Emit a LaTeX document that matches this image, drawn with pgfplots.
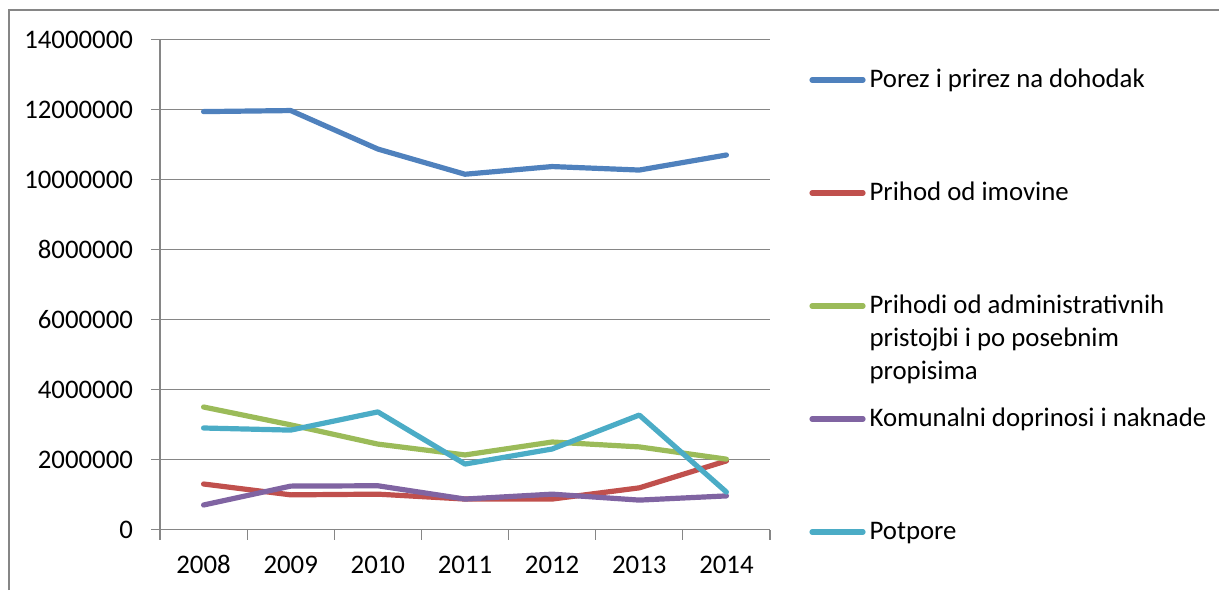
\documentclass[border=0pt]{standalone}
\usepackage{fontspec}
\setmainfont{Carlito}
\usepackage{pgfplots}
\pgfplotsset{compat=1.18}
\definecolor{cBlue}{HTML}{4F81BD}
\definecolor{cRed}{HTML}{C0504D}
\definecolor{cGreen}{HTML}{9BBB59}
\definecolor{cPurple}{HTML}{8064A2}
\definecolor{cCyan}{HTML}{4BACC6}
\definecolor{gridgray}{HTML}{868686}
\newcommand{\lf}{\fontsize{13.4}{16.3}\selectfont}
\newcommand{\lentry}[1]{\parbox[t]{200pt}{\lf #1}}
\begin{document}
\begin{tikzpicture}
\useasboundingbox (0,0) rectangle (609.5pt,295pt);
\draw[gridgray, line width=0.6pt] (4.5pt,0pt) -- (4.5pt,290pt) -- (609.5pt,290pt);
\begin{axis}[
  at={(80pt,30.25pt)}, anchor=south west,
  scale only axis, width=305pt, height=245pt,
  xmin=-0.5, xmax=6.5, ymin=0, ymax=14000000,
  axis x line*=bottom, axis y line*=left,
  axis line style={gridgray, line width=0.6pt},
  xtick={0,1,2,3,4,5,6},
  xticklabels={2008,2009,2010,2011,2012,2013,2014},
  minor xtick={-0.5,0.5,1.5,2.5,3.5,4.5,5.5,6.5},
  every major x tick/.append style={draw=none},
  minor tick length=5pt,
  ytick={0,2000000,4000000,6000000,8000000,10000000,12000000,14000000},
  yticklabels={0,2000000,4000000,6000000,8000000,10000000,12000000,14000000},
  scaled y ticks=false,
  tick align=outside, major tick length=4.5pt,
  tick style={gridgray, line width=0.6pt},
  ymajorgrids, grid style={gridgray, line width=0.6pt},
  xticklabel style={font=\lf, anchor=base, yshift=-17.5pt},
  yticklabel style={font=\lf, xshift=-5.5pt},
  legend style={at={(1.064,0.944)}, anchor=north west, draw=none, fill=none,
    inner sep=0pt, row sep={56.5pt,between origins}, column sep=1pt,
    cells={anchor=base west}, nodes={inner sep=1pt}},
  legend image code/.code={\draw[#1, line width=2.6pt, line cap=round] (1.25pt,4pt) -- (26.75pt,4pt);},
  every axis plot/.append style={line width=2.6pt, line join=round, line cap=round},
]
\addplot[cBlue] coordinates {(0,11940000) (1,11970000) (2,10870000) (3,10150000) (4,10370000) (5,10270000) (6,10700000)};
\addlegendentry{\lentry{Porez i prirez na dohodak}}
\addplot[cRed] coordinates {(0,1300000) (1,990000) (2,1010000) (3,870000) (4,870000) (5,1190000) (6,1960000)};
\addlegendentry{\lentry{Prihod od imovine}}
\addplot[cGreen] coordinates {(0,3500000) (1,2990000) (2,2440000) (3,2130000) (4,2500000) (5,2360000) (6,2010000)};
\addlegendentry{\lentry{Prihodi od administrativnih\\pristojbi i po posebnim\\propisima}}
\addplot[cPurple] coordinates {(0,700000) (1,1240000) (2,1250000) (3,870000) (4,1010000) (5,840000) (6,960000)};
\addlegendentry{\lentry{Komunalni doprinosi i naknade}}
\addplot[cCyan] coordinates {(0,2900000) (1,2840000) (2,3360000) (3,1870000) (4,2300000) (5,3270000) (6,1070000)};
\addlegendentry{\lentry{Potpore}}
\end{axis}
\end{tikzpicture}
\end{document}
